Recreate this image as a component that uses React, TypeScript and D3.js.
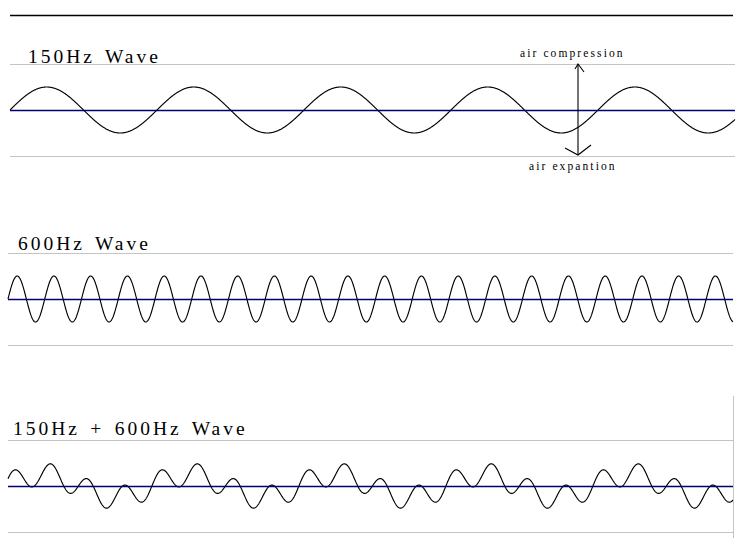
import React from "react";
import * as d3 from "d3";

// ---- data ----
const panelTitles = ["150Hz Wave", "600Hz Wave", "150Hz + 600Hz Wave"];
const panelFrequencies = [[150], [600], [150, 600]]; // Hz
const panelAmplitudes = [[1], [1], [0.5, 0.5]]; // relative units
const panelStartMs = [0, 0, 0.14]; // start time of each trace (ms)
const durationMs = 32.88;
const annotationLabels = ["air compression", "air expantion"];
const annotationTimeMs = 25.76;
const yDomain = [-2, 2];

// ---- layout ----
const W = 750;
const H = 538;
const layout = [
  { left: 10, right: 735, top: 64, bottom: 156, titleX: 28, titleY: 63 },
  { left: 8, right: 733, top: 253, bottom: 345, titleX: 18, titleY: 250 },
  { left: 8, right: 733, top: 440, bottom: 532, titleX: 13, titleY: 435 },
];
const SAMPLES = 1600;

function wavePath(i: number) {
  const L = layout[i];
  const t0 = panelStartMs[i];
  const x = d3.scaleLinear().domain([t0, t0 + durationMs]).range([L.left, L.right]);
  const y = d3.scaleLinear().domain(yDomain).range([L.bottom, L.top]);
  const ts = d3.range(SAMPLES + 1).map((k) => t0 + (durationMs * k) / SAMPLES);
  const val = (t: number) =>
    d3.sum(panelFrequencies[i], (f, j) => panelAmplitudes[i][j] * Math.sin(2 * Math.PI * f * (t / 1000)));
  const line = d3
    .line<number>()
    .x((t) => x(t))
    .y((t) => y(val(t)));
  return { d: line(ts) || "", x, y };
}

export default function App() {
  const serif = "'Liberation Serif', 'Times New Roman', serif";
  const p0 = wavePath(0);
  const ax = p0.x(annotationTimeMs);
  const yTop = p0.y(yDomain[1]);
  const yBot = p0.y(yDomain[0]) - 1;
  return (
    <svg
      width={W}
      height={H}
      style={{ position: "absolute", left: 0, top: 0, background: "#fff" }}
    >
      <rect width={W} height={H} fill="#fff" />
      <line x1={10} x2={733} y1={15.5} y2={15.5} stroke="#000" strokeWidth={1.3} />
      {layout.map((L, i) => {
        const p = i === 0 ? p0 : wavePath(i);
        const y0 = Math.round(p.y(0)) + 0.5;
        return (
          <g key={i}>
            <text
              x={L.titleX}
              y={L.titleY}
              fontFamily={serif}
              fontSize={19.5}
              letterSpacing={3}
              wordSpacing={2.5}
              fill="#000"
            >
              {panelTitles[i]}
            </text>
            <line x1={L.left} x2={L.right} y1={L.top + 0.5} y2={L.top + 0.5} stroke="#c4c4c4" strokeWidth={1} />
            <line x1={L.left} x2={L.right} y1={L.bottom + 0.5} y2={L.bottom + 0.5} stroke="#c4c4c4" strokeWidth={1} />
            <path d={p.d} fill="none" stroke="#000" strokeWidth={1.15} />
            <line x1={L.left} x2={L.right} y1={y0} y2={y0} stroke="#00006e" strokeWidth={1.3} />
          </g>
        );
      })}
      <line x1={733.5} x2={733.5} y1={396} y2={H} stroke="#c4c4c4" strokeWidth={1} />
      {/* annotation arrow */}
      <g stroke="#000" strokeWidth={1.1} fill="none">
        <line x1={ax} x2={ax} y1={yTop} y2={yBot} />
        <path d={`M${ax - 3},${yTop + 5} L${ax},${yTop} L${ax + 6},${yTop + 8}`} />
        <path d={`M${ax - 13},${yBot - 7} L${ax},${yBot} L${ax + 13},${yBot - 10}`} />
      </g>
      <text x={ax - 58} y={57} fontFamily={serif} fontSize={11.5} letterSpacing={2.1} fill="#000">
        {annotationLabels[0]}
      </text>
      <text x={ax - 49} y={170} fontFamily={serif} fontSize={11.5} letterSpacing={2.1} fill="#000">
        {annotationLabels[1]}
      </text>
    </svg>
  );
}
